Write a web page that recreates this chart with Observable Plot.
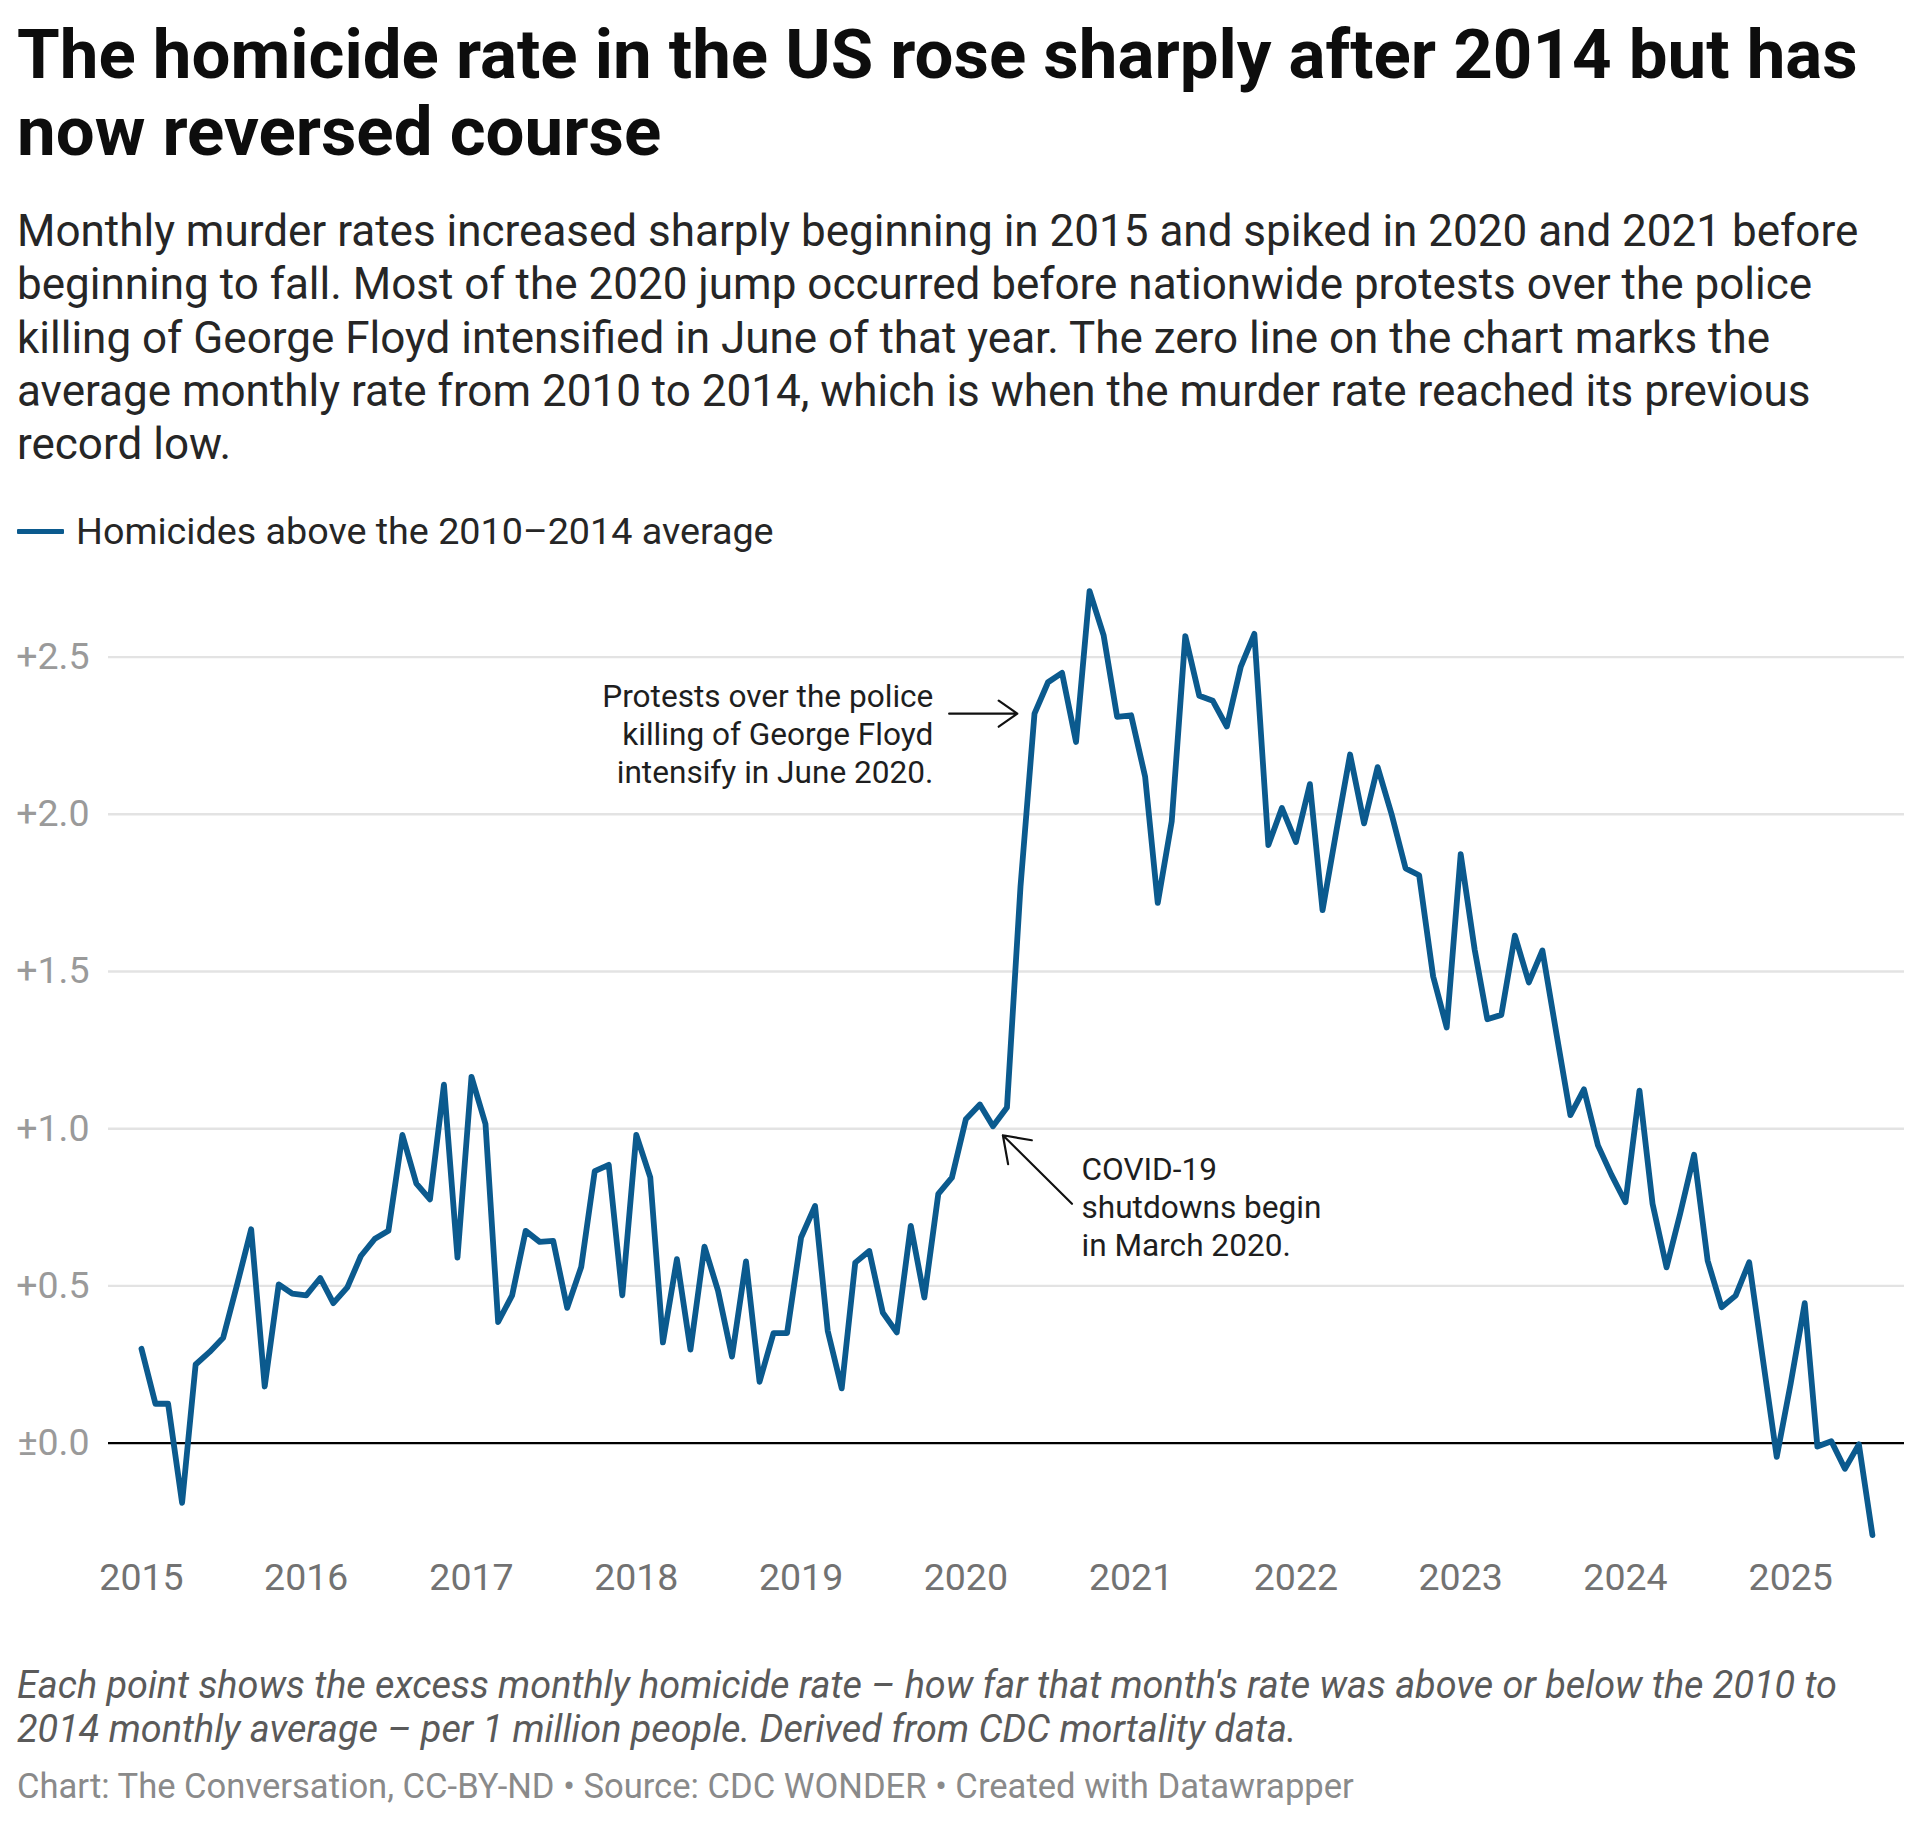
<!DOCTYPE html>
<html>
<head>
<meta charset="utf-8">
<script src="https://cdn.jsdelivr.net/npm/d3@7"></script>
<script src="https://cdn.jsdelivr.net/npm/@observablehq/plot@0.6"></script>
<style>
  html, body { margin: 0; padding: 0; background: #fff; }
  body { position: relative; width: 1920px; height: 1822px; font-family: Roboto, "Noto Sans", sans-serif; color: #1a1a1a; }
  .txt { position: absolute; left: 17px; margin: 0; white-space: nowrap; }
  h1 { top: 16px; font-size: 69px; line-height: 77px; font-weight: 700; color: #0d0d0d; }
  .sub { top: 205px; font-size: 44px; line-height: 53.3px; color: #262626; }
  .legend { top: 509.4px; height: 44px; display: flex; align-items: center; font-size: 37.7px; color: #262626; }
  .legend .swatch { width: 47px; height: 5px; background: #0b5a8e; margin-right: 12px; border-radius: 1px; }
  #chart { position: absolute; left: 0; top: 560px; width: 1920px; height: 1050px; }
  .caption { top: 1663px; font-size: 37.8px; line-height: 44px; font-style: italic; color: #5a5a5a; }
  .credit { top: 1764px; font-size: 34.6px; line-height: 44px; color: #8a8a8a; }
</style>
</head>
<body>
<h1 class="txt">The homicide rate in the US rose sharply after 2014 but has<br>now reversed course</h1>
<p class="sub txt">Monthly murder rates increased sharply beginning in 2015 and spiked in 2020 and 2021 before<br>beginning to fall. Most of the 2020 jump occurred before nationwide protests over the police<br>killing of George Floyd intensified in June of that year. The zero line on the chart marks the<br>average monthly rate from 2010 to 2014, which is when the murder rate reached its previous<br>record low.</p>
<div class="legend txt"><span class="swatch"></span><span>Homicides above the 2010–2014 average</span></div>
<div id="chart"></div>
<p class="caption txt">Each point shows the excess monthly homicide rate – how far that month's rate was above or below the 2010 to<br>2014 monthly average – per 1 million people. Derived from CDC mortality data.</p>
<p class="credit txt">Chart: The Conversation, CC-BY-ND • Source: CDC WONDER • Created with Datawrapper</p>

<script>
// Excess monthly homicides per 1 million people vs. the 2010–2014 monthly average, Jan–Dec each year
const rate2015 = [0.30, 0.125, 0.125, -0.19, 0.25, 0.29, 0.335, 0.505, 0.68, 0.18, 0.505, 0.475];
const rate2016 = [0.47, 0.525, 0.445, 0.495, 0.595, 0.65, 0.675, 0.98, 0.825, 0.775, 1.14, 0.59];
const rate2017 = [1.165, 1.015, 0.385, 0.47, 0.675, 0.64, 0.643, 0.43, 0.56, 0.865, 0.885, 0.47];
const rate2018 = [0.98, 0.845, 0.32, 0.585, 0.297, 0.625, 0.485, 0.275, 0.578, 0.195, 0.35, 0.35];
const rate2019 = [0.654, 0.754, 0.357, 0.174, 0.574, 0.611, 0.415, 0.352, 0.691, 0.463, 0.793, 0.844];
const rate2020 = [1.03, 1.077, 1.008, 1.067, 1.77, 2.32, 2.42, 2.45, 2.23, 2.71, 2.57, 2.31];
const rate2021 = [2.315, 2.12, 1.718, 1.978, 2.567, 2.377, 2.361, 2.279, 2.47, 2.574, 1.902, 2.02];
const rate2022 = [1.912, 2.096, 1.695, 1.95, 2.19, 1.971, 2.15, 2.0, 1.828, 1.806, 1.484, 1.322];
const rate2023 = [1.873, 1.569, 1.348, 1.362, 1.614, 1.465, 1.567, 1.303, 1.043, 1.125, 0.947, 0.853];
const rate2024 = [0.766, 1.121, 0.761, 0.559, 0.729, 0.917, 0.58, 0.432, 0.469, 0.575, 0.26, -0.044];
const rate2025 = [0.19, 0.445, -0.011, 0.006, -0.082, -0.004, -0.293];

const years = [2015, 2016, 2017, 2018, 2019, 2020, 2021, 2022, 2023, 2024, 2025];
const yearlyRates = [rate2015, rate2016, rate2017, rate2018, rate2019, rate2020, rate2021, rate2022, rate2023, rate2024, rate2025];

// Y-axis tick values and their labels
const yTicks = [0, 0.5, 1, 1.5, 2, 2.5];
const yTickLabels = ["±0.0", "+0.5", "+1.0", "+1.5", "+2.0", "+2.5"];

// Annotation texts and arrows, placed in data space (date, rate)
const protestNote = [{date: new Date(Date.UTC(2019, 9, 21)), value: 2.258,
  text: "Protests over the police\nkilling of George Floyd\nintensify in June 2020."}];
const covidNote = [{date: new Date(Date.UTC(2020, 8, 13)), value: 0.754,
  text: "COVID-19\nshutdowns begin\nin March 2020."}];
const noteArrows = [
  {from: new Date(Date.UTC(2019, 10, 25)), fromValue: 2.32, to: new Date(Date.UTC(2020, 3, 24)), toValue: 2.32},
  {from: new Date(Date.UTC(2020, 7, 23)), fromValue: 0.761, to: new Date(Date.UTC(2020, 2, 23)), toValue: 0.979}
];

const data = yearlyRates.flatMap((arr, k) =>
  arr.map((v, m) => ({date: new Date(Date.UTC(years[k], m, 1)), value: v}))
);
const yearTicks = years.map(y => new Date(Date.UTC(y, 0, 1)));

const noteStyle = {x: "date", y: "value", text: "text", lineAnchor: "middle", lineHeight: 1.2, fontSize: 31.6, fill: "#1e1e1e"};

const chart = Plot.plot({
  width: 1920,
  height: 1050,
  marginLeft: 108,
  marginRight: 16,
  marginTop: 18,
  marginBottom: 57.4,
  style: {fontFamily: "Roboto, sans-serif", fontSize: "37.5px", background: "#fff", overflow: "visible"},
  x: {type: "utc", domain: [new Date(Date.UTC(2014, 9, 20)), new Date(Date.UTC(2025, 8, 10))]},
  y: {domain: [-0.35, 2.75]},
  marks: [
    Plot.gridY(yTicks.filter(d => d !== 0), {stroke: "#e3e3e3", strokeOpacity: 1, strokeWidth: 2.4}),
    Plot.ruleY([0], {stroke: "#000", strokeWidth: 2.3}),
    Plot.axisY(yTicks, {
      tickSize: 0, tickPadding: 19, fill: "#9a9a9a", fontSize: 37.5,
      tickFormat: d => yTickLabels[yTicks.indexOf(d)], label: null
    }),
    Plot.axisX(yearTicks, {
      tickSize: 0, tickPadding: 10, fill: "#727272", fontSize: 37.5,
      tickFormat: d3.utcFormat("%Y"), label: null
    }),
    Plot.line(data, {x: "date", y: "value", stroke: "#0b5a8e", strokeWidth: 5.8}),
    Plot.arrow(noteArrows, {
      x1: "from", y1: "fromValue", x2: "to", y2: "toValue",
      stroke: "#111", strokeWidth: 2.2, headLength: 20, headAngle: 70
    }),
    Plot.text(protestNote, {...noteStyle, textAnchor: "end"}),
    Plot.text(covidNote, {...noteStyle, textAnchor: "start"})
  ]
});
document.getElementById("chart").appendChild(chart);
</script>
</body>
</html>
